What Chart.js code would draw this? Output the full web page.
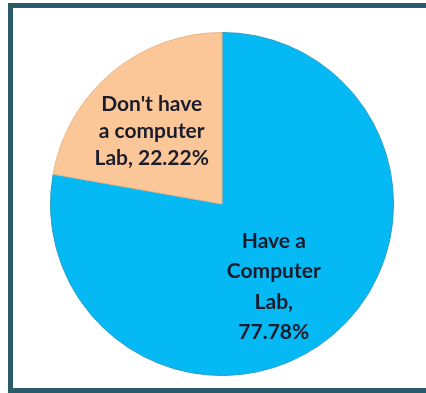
<!DOCTYPE html>
<html>
<head>
<meta charset="utf-8">
<script src="https://cdn.jsdelivr.net/npm/chart.js@4/dist/chart.umd.min.js"></script>
<style>
  html, body { margin: 0; padding: 0; background: #ffffff; }
  body { width: 426px; height: 393px; position: relative; overflow: hidden; }
  #frame {
    position: absolute; left: 8px; top: 3px; width: 430px; height: 380px;
    border-top: 5px solid #2B5B68; border-left: 5px solid #2B5B68; border-bottom: 5px solid #2B5B68;
    background: #ffffff;
  }
  #wrap { position: absolute; left: 0; top: 0; width: 426px; height: 393px; }
</style>
</head>
<body>
<div id="frame"></div>
<div id="wrap"><canvas id="c" width="426" height="393"></canvas></div>
<script>
const categories = ["Have a Computer Lab", "Don't have a computer Lab"];
const values = [77.78, 22.22];
const sliceColors = ["#05B9F4", "#FBC798"];
const labelLines = [
  ["Have a", "Computer", "Lab,", "77.78%"],
  ["Don't have", "a computer", "Lab, 22.22%"]
];

const labelPlugin = {
  id: 'sliceLabels',
  afterDatasetsDraw(chart) {
    const ctx = chart.ctx;
    const meta = chart.getDatasetMeta(0);
    // label anchor: [angle (deg, canvas), distance as fraction of radius, line height]
    const anchors = [[58, 0.57, 30.5], [-134, 0.59, 27]];
    meta.data.forEach((arc, i) => {
      const p = arc.getProps(['x', 'y', 'outerRadius'], true);
      const a = anchors[i][0] * Math.PI / 180;
      const cx = p.x + Math.cos(a) * p.outerRadius * anchors[i][1];
      const cy = p.y + Math.sin(a) * p.outerRadius * anchors[i][1];
      const lines = labelLines[i];
      const lh = anchors[i][2];
      ctx.save();
      ctx.font = "bold 21px Lato, 'Open Sans', sans-serif";
      ctx.fillStyle = "#1A1C2C";
      ctx.textAlign = "center";
      ctx.textBaseline = "middle";
      const start = cy - (lines.length - 1) * lh / 2;
      lines.forEach((t, k) => ctx.fillText(t, cx, start + k * lh));
      ctx.restore();
    });
  }
};

new Chart(document.getElementById('c'), {
  type: 'pie',
  data: {
    labels: categories,
    datasets: [{
      data: values,
      backgroundColor: sliceColors,
      borderColor: ["#2A9CC4", "#E9B685"],
      borderWidth: 1
    }]
  },
  options: {
    responsive: false,
    animation: false,
    layout: { padding: { left: 50, right: 32, top: 32, bottom: 17 } },
    plugins: { legend: { display: false }, tooltip: { enabled: false } }
  },
  plugins: [labelPlugin]
});
</script>
</body>
</html>
